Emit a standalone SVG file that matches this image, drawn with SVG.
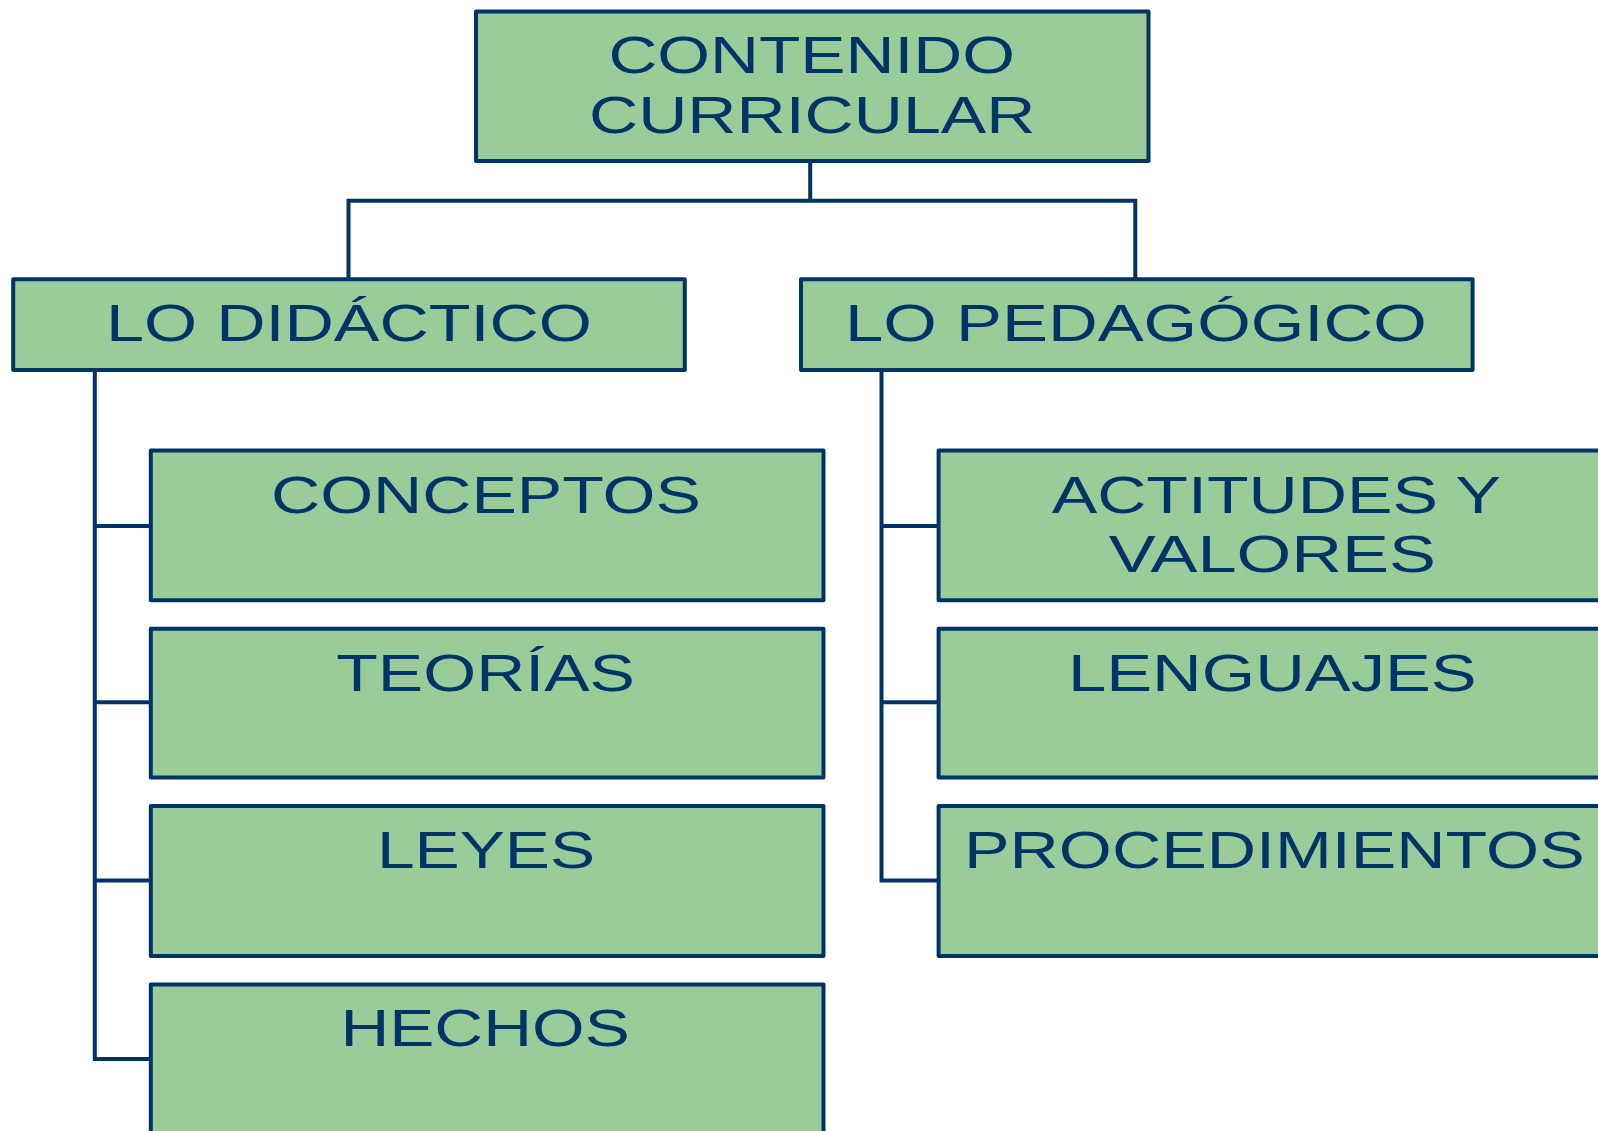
<svg xmlns="http://www.w3.org/2000/svg" width="1598" height="1131" viewBox="0 0 1598 1131">
<style>
.box{fill:#99CC99;stroke:#003366;stroke-width:4;stroke-linejoin:round}
.lbl{font-family:"Liberation Sans",Arial,sans-serif;font-size:51px;fill:#003366}
.con{fill:none;stroke:#003366;stroke-width:4;stroke-linecap:square}
</style>
<rect width="1598" height="1131" fill="#FFFFFF"/>
<g id="connectors">
<path class="con" d="M810.2 161V200.8M348.5 279.2V200.8H1135.3V279.2"/>
<path class="con" d="M94.8 370V1058.9M94.8 525.9H150.8M94.8 702.2H150.8M94.8 880.5H150.8M94.8 1058.9H150.8"/>
<path class="con" d="M881.5 370V880.5M881.5 525.9H938.6M881.5 702.2H938.6M881.5 880.5H938.6"/>
</g>
<g id="root">
<rect class="box" x="476" y="11.5" width="672.5" height="149.5"/>
<text class="lbl" x="608.4" y="73.4" textLength="406.6" lengthAdjust="spacingAndGlyphs">CONTENIDO</text>
<text class="lbl" x="589" y="132.5" textLength="446.4" lengthAdjust="spacingAndGlyphs">CURRICULAR</text>
</g>
<g id="didactico">
<rect class="box" x="13.2" y="279.2" width="671.6" height="90.8"/>
<text class="lbl" x="106" y="341.4" textLength="486" lengthAdjust="spacingAndGlyphs">LO DIDÁCTICO</text>
</g>
<g id="pedagogico">
<rect class="box" x="801" y="279.2" width="671.6" height="90.8"/>
<text class="lbl" x="845" y="341.4" textLength="581.8" lengthAdjust="spacingAndGlyphs">LO PEDAGÓGICO</text>
</g>
<g id="conceptos">
<rect class="box" x="150.8" y="450.4" width="672.7" height="149.9"/>
<text class="lbl" x="271" y="512.6" textLength="430" lengthAdjust="spacingAndGlyphs">CONCEPTOS</text>
</g>
<g id="teorias">
<rect class="box" x="150.8" y="628.8" width="672.7" height="148.8"/>
<text class="lbl" x="336.3" y="691" textLength="298.7" lengthAdjust="spacingAndGlyphs">TEORÍAS</text>
</g>
<g id="leyes">
<rect class="box" x="150.8" y="806.1" width="672.7" height="149.8"/>
<text class="lbl" x="377" y="868.3" textLength="218" lengthAdjust="spacingAndGlyphs">LEYES</text>
</g>
<g id="hechos">
<rect class="box" x="150.8" y="984.5" width="672.7" height="160"/>
<text class="lbl" x="340.4" y="1045.6" textLength="289.4" lengthAdjust="spacingAndGlyphs">HECHOS</text>
</g>
<g id="actitudes">
<rect class="box" x="938.6" y="450.4" width="672.7" height="149.9"/>
<text class="lbl" x="1051.7" y="512.6" textLength="449.4" lengthAdjust="spacingAndGlyphs">ACTITUDES Y</text>
<text class="lbl" x="1108.8" y="571.7" textLength="327.2" lengthAdjust="spacingAndGlyphs">VALORES</text>
</g>
<g id="lenguajes">
<rect class="box" x="938.6" y="628.8" width="672.7" height="148.8"/>
<text class="lbl" x="1068" y="691" textLength="408.7" lengthAdjust="spacingAndGlyphs">LENGUAJES</text>
</g>
<g id="procedimientos">
<rect class="box" x="938.6" y="806.1" width="672.7" height="149.8"/>
<text class="lbl" x="964" y="868.3" textLength="620.7" lengthAdjust="spacingAndGlyphs">PROCEDIMIENTOS</text>
</g>
</svg>
